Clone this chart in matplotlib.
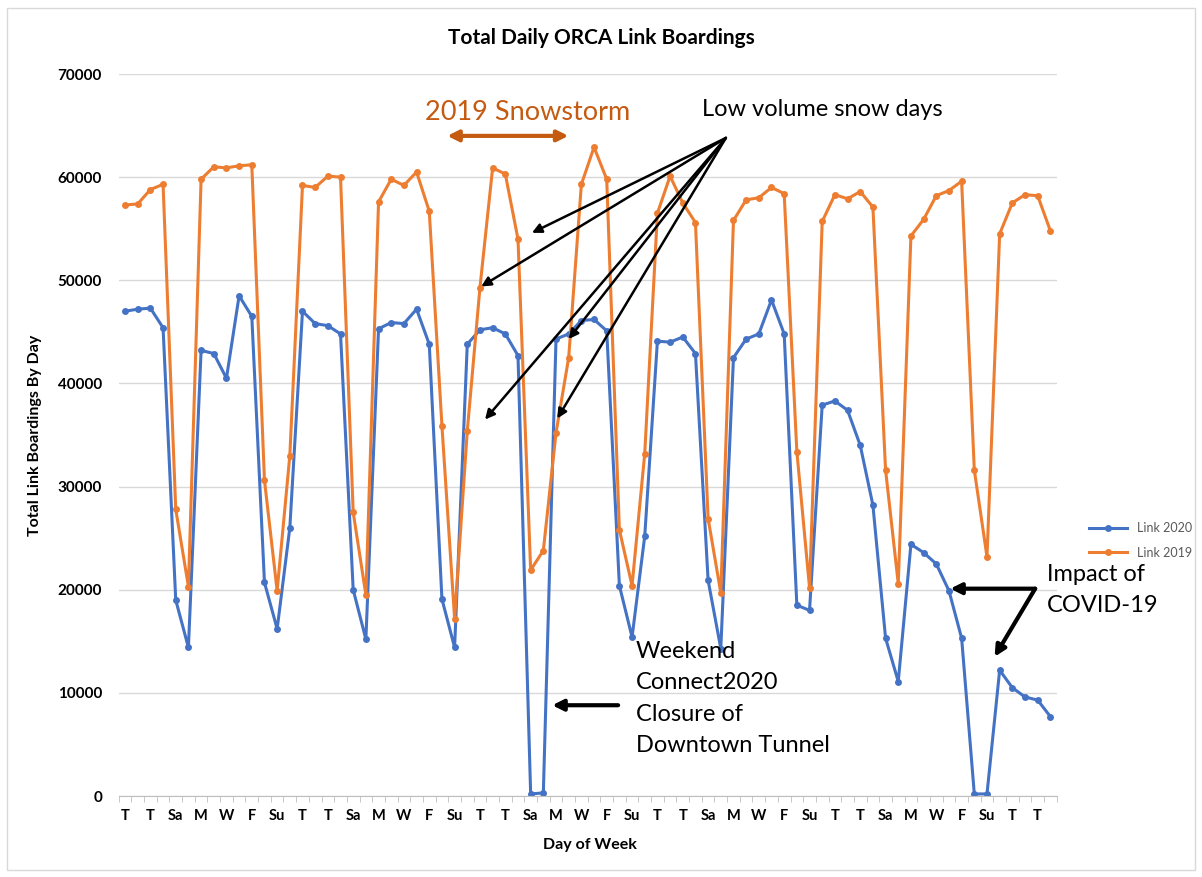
import matplotlib.pyplot as plt
from matplotlib.patches import Rectangle

# daily boardings, one value per day starting on a Tuesday
link_2020 = [47000, 47200, 47300, 45400, 19000, 14400, 43200, 42900, 40500, 48500,
             46500, 20700, 16200, 26000, 47000, 45800, 45600, 44800, 20000, 15200,
             45300, 45900, 45800, 47200, 43800, 19100, 14400, 43800, 45200, 45400,
             44800, 42700, 200, 300, 44300, 44800, 46100, 46200, 45100, 20400,
             15400, 25200, 44100, 44000, 44500, 42900, 20900, 14300, 42500, 44300,
             44800, 48100, 44800, 18500, 18000, 37900, 38300, 37400, 34000, 28200,
             15300, 11100, 24400, 23600, 22500, 19900, 15300, 200, 200, 12200,
             10500, 9600, 9300, 7700]
link_2019 = [57300, 57400, 58800, 59300, 27800, 20300, 59800, 61000, 60900, 61100,
             61200, 30600, 19900, 33000, 59200, 59000, 60100, 60000, 27500, 19500,
             57600, 59800, 59200, 60500, 56700, 35900, 17200, 35400, 49300, 60900,
             60300, 54000, 21900, 23800, 35200, 42500, 59300, 62900, 59800, 25800,
             20400, 33200, 56500, 60100, 57500, 55600, 26900, 19700, 55800, 57800,
             58000, 59000, 58400, 33400, 20200, 55700, 58300, 57900, 58600, 57100,
             31600, 20600, 54300, 55900, 58200, 58700, 59600, 31600, 23200, 54500,
             57500, 58300, 58200, 54800]
# every second day carries a label
day_labels = ['T', 'T', 'Sa', 'M', 'W', 'F', 'Su',
              'T', 'T', 'Sa', 'M', 'W', 'F', 'Su',
              'T', 'T', 'Sa', 'M', 'W', 'F', 'Su',
              'T', 'T', 'Sa', 'M', 'W', 'F', 'Su',
              'T', 'T', 'Sa', 'M', 'W', 'F', 'Su',
              'T', 'T']
days = list(range(len(link_2020)))

BLUE = '#4472C4'
ORANGE = '#ED7D31'
SNOW = '#C55A11'
plt.rcParams['font.family'] = ['Lato', 'DejaVu Sans']

W, H = 1202, 877
fig = plt.figure(figsize=(W / 100, H / 100), dpi=100)
fig.patches.append(Rectangle((7 / W, 1 - 870 / H), 1188 / W, 862 / H, transform=fig.transFigure,
                             fill=False, edgecolor='#D9D9D9', lw=1))
ax = fig.add_axes([118.7 / W, 1 - 796 / H, 938 / W, 722 / H])

ax.plot(days, link_2020, color=BLUE, lw=2.2, marker='o', ms=5, mew=0, label='Link 2020')
ax.plot(days, link_2019, color=ORANGE, lw=2.2, marker='o', ms=5, mew=0, label='Link 2019')

ax.set_xlim(-0.5, len(days) - 0.5)
ax.set_ylim(0, 70000)
ax.set_yticks(range(0, 70001, 10000))
ax.set_yticklabels([str(v) for v in range(0, 70001, 10000)], fontweight='bold', fontsize=11)
ax.set_xticks(days[::2])
ax.set_xticklabels(day_labels, fontweight='bold', fontsize=10.5)
ax.set_xticks([d - 0.5 for d in days] + [len(days) - 0.5], minor=True)
ax.tick_params(axis='x', which='major', length=0, pad=9)
ax.tick_params(axis='x', which='minor', length=4, color='#BFBFBF')
ax.tick_params(axis='y', length=0, pad=12)
ax.grid(axis='y', color='#D9D9D9', lw=1)
ax.set_axisbelow(True)
for s in ['top', 'right', 'left']:
    ax.spines[s].set_visible(False)
ax.spines['bottom'].set_color('#BFBFBF')

ax.set_xlabel('Day of Week', fontweight='bold', fontsize=11.5)
ax.xaxis.set_label_coords(0.502, -0.058)
ax.set_ylabel('Total Link Boardings By Day', fontweight='bold', fontsize=11.5)
ax.yaxis.set_label_coords(-0.082, 0.5)

fig.text(601 / W, 1 - 38 / H, 'Total Daily ORCA Link Boardings', ha='center', va='center',
         fontweight='bold', fontsize=15)

leg = fig.legend(loc='upper left', bbox_to_anchor=(1078 / W, 1 - 511 / H), frameon=False,
                 fontsize=9, handlelength=3, labelspacing=1.0)
for t in leg.get_texts():
    t.set_color('#595959')

# annotations
ax.text(31.8, 66300, '2019 Snowstorm', color=SNOW, fontsize=19.5, ha='center', va='center')
ax.annotate('', xy=(25.2, 64000), xytext=(35.2, 64000),
            arrowprops=dict(arrowstyle='<|-|>', color=SNOW, lw=3, mutation_scale=16))

ax.text(55.0, 66600, 'Low volume snow days', fontsize=17, ha='center', va='center')
snow_src = (47.4, 63800)
for tx, ty in [(32.1, 54600), (28.1, 49400), (28.4, 36500), (35.0, 44300), (34.1, 36600)]:
    ax.annotate('', xy=(tx, ty), xytext=snow_src,
                arrowprops=dict(arrowstyle='-|>', color='black', lw=1.8, mutation_scale=14,
                                shrinkA=0, shrinkB=0))

ax.text(40.3, 15000, 'Weekend\nConnect2020\nClosure of\nDowntown Tunnel', fontsize=17,
        ha='left', va='top', linespacing=1.6)
ax.annotate('', xy=(33.7, 8800), xytext=(38.9, 8800),
            arrowprops=dict(arrowstyle='-|>', color='black', lw=3, mutation_scale=16,
                            shrinkA=0, shrinkB=0))

ax.text(72.7, 22500, 'Impact of\nCOVID-19', fontsize=17, ha='left', va='top', linespacing=1.6)
covid_src = (71.8, 20100)
for tx, ty in [(65.1, 20100), (68.6, 13500)]:
    ax.annotate('', xy=(tx, ty), xytext=covid_src,
                arrowprops=dict(arrowstyle='-|>', color='black', lw=3, mutation_scale=16,
                                shrinkA=0, shrinkB=0))

fig.savefig('out.png', dpi=100)
